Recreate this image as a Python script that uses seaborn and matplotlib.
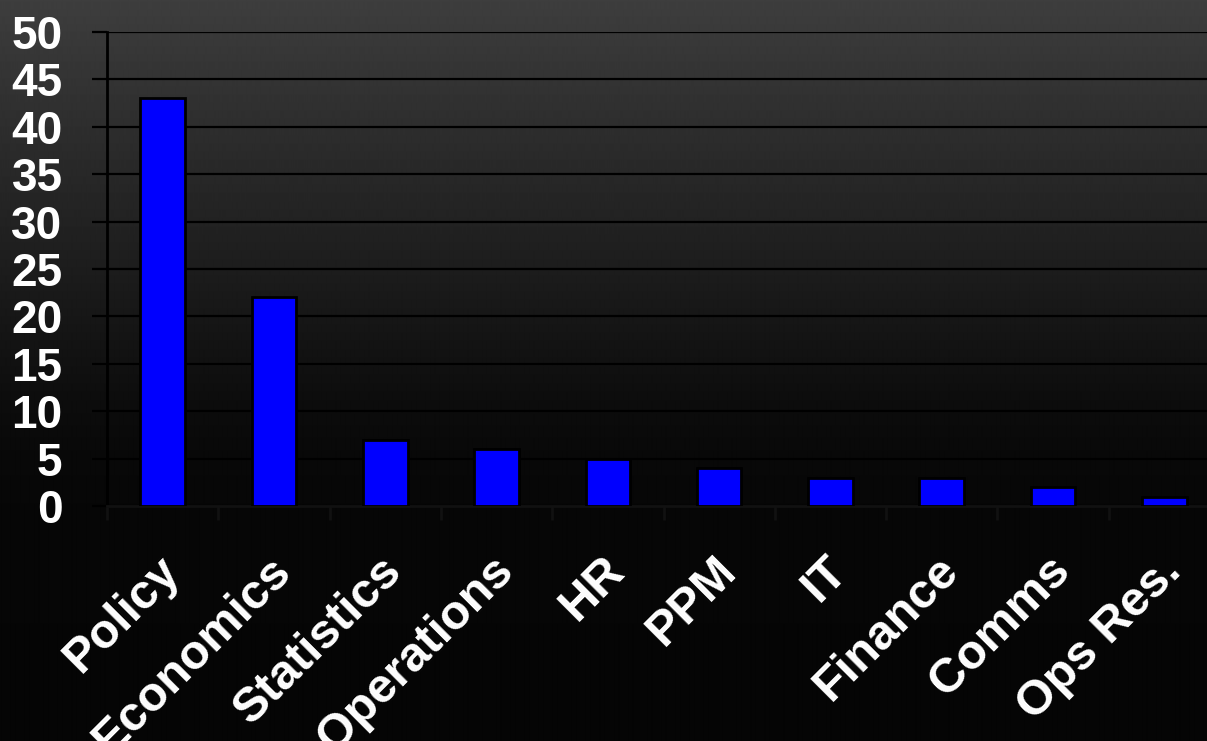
import numpy as np
import pandas as pd
import matplotlib
matplotlib.use("Agg")
import matplotlib.pyplot as plt
import matplotlib.transforms as mtransforms
from matplotlib.ticker import FixedLocator
import seaborn as sns

categories = ["Policy", "Economics", "Statistics", "Operations", "HR",
              "PPM", "IT", "Finance", "Comms", "Ops Res."]
values = [43, 22, 7, 6, 5, 4, 3, 3, 2, 1]
y_ticks = [0, 5, 10, 15, 20, 25, 30, 35, 40, 45, 50]

df = pd.DataFrame({"category": categories, "value": values})

sns.set_theme(style="white")
plt.rcParams["font.family"] = ["Liberation Sans", "DejaVu Sans"]

W, H = 1207, 741
fig = plt.figure(figsize=(W / 100, H / 100), dpi=100)

# background gradient (grey at top to black at bottom)
bg = fig.add_axes([0, 0, 1, 1], zorder=-10)
ypx = np.arange(H)
stops_y = [0, 60, 150, 250, 340, 400, 450, 500, 741]
stops_v = [0x3e, 0x36, 0x2b, 0x1f, 0x14, 0x0d, 0x09, 0x07, 0x05]
col = np.interp(ypx, stops_y, stops_v) / 255.0
img = np.repeat(col[:, None], 4, axis=1)
bg.imshow(img, cmap="gray", vmin=0, vmax=1, aspect="auto",
          extent=[0, 1, 0, 1], origin="upper", interpolation="bilinear")
bg.set_axis_off()

left = 107 / W
right = 1220 / W
bottom = 1 - 506 / H
top = 1 - 32 / H
ax = fig.add_axes([left, bottom, right - left, top - bottom])
ax.set_facecolor("none")

sns.barplot(data=df, x="category", y="value", color="#0000FF",
            saturation=1, width=0.4, edgecolor="black", linewidth=2,
            ax=ax, zorder=3)

ax.set_xlim(-0.5, len(categories) - 0.5)
ax.set_ylim(0, 50)
ax.set_xlabel("")
ax.set_ylabel("")

# grid
ax.yaxis.set_major_locator(FixedLocator(y_ticks))
ax.set_yticklabels([str(t) for t in y_ticks])
ax.grid(axis="y", color="black", linewidth=1.6, zorder=0)
ax.grid(axis="x", visible=False)
ax.set_axisbelow(True)

# spines
for s in ["top", "right"]:
    ax.spines[s].set_visible(False)
ax.spines["left"].set_color("black")
ax.spines["left"].set_linewidth(2)
ax.spines["bottom"].set_color("#111111")
ax.spines["bottom"].set_linewidth(2)

# y ticks
ax.tick_params(axis="y", which="major", direction="out", length=11,
               width=1.6, color="black", pad=21, labelsize=33,
               labelcolor="white", left=True)
for lab in ax.get_yticklabels():
    lab.set_fontweight("bold")

# x ticks: labels at centers, tick marks at boundaries
ax.set_xticks(range(len(categories)))
ax.set_xticklabels(categories)
ax.xaxis.set_minor_locator(FixedLocator(np.arange(-0.5, len(categories), 1.0)))
ax.tick_params(axis="x", which="major", length=0, pad=30, labelsize=35,
               labelcolor="white", bottom=True)
ax.tick_params(axis="x", which="minor", length=10, width=2,
               color="#111111", bottom=True, direction="out")
offset = mtransforms.ScaledTranslation(-6 / 100, 0, fig.dpi_scale_trans)
for lab in ax.get_xticklabels():
    lab.set_rotation(45)
    lab.set_ha("right")
    lab.set_va("top")
    lab.set_rotation_mode("anchor")
    lab.set_fontweight("bold")
    lab.set_transform(lab.get_transform() + offset)

fig.savefig("out.png", dpi=100)
